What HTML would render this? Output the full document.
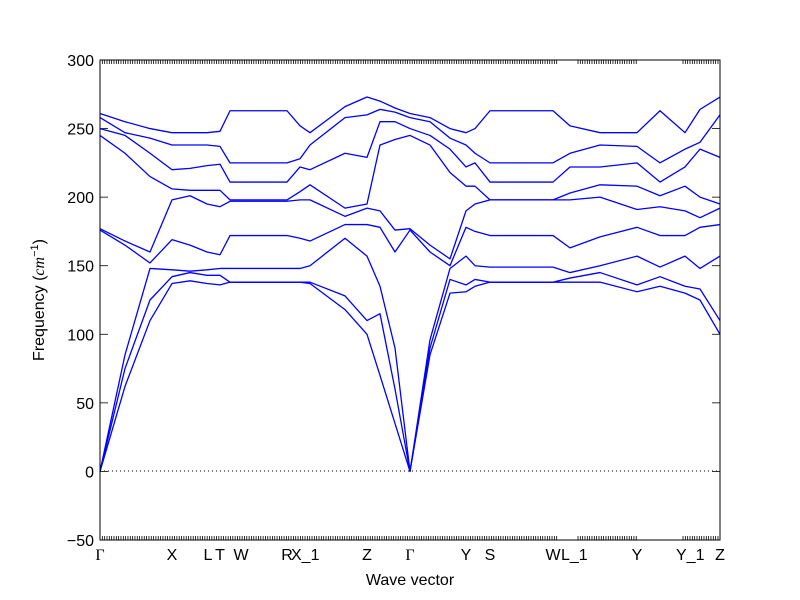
<!DOCTYPE html>
<html><head><meta charset="utf-8"><style>
body{margin:0;background:#fff}
svg{display:block;font-family:"Liberation Sans","DejaVu Sans",sans-serif}
</style></head><body>
<svg id="chart" width="800" height="600" viewBox="0 0 800 600" xmlns="http://www.w3.org/2000/svg">
<rect x="0" y="0" width="800" height="600" fill="#fff"/>
<g id="ticks"></g>
<g id="bands"></g>
<line x1="100" y1="471" x2="720" y2="471" stroke="#000" stroke-width="1" stroke-dasharray="1,3"/>
<rect x="100" y="60" width="620" height="480" fill="none" stroke="#000" stroke-width="1"/>
<g id="ylabels" font-size="16" text-anchor="end"></g>
<g id="xlabels" font-size="16" text-anchor="middle"></g>
<text x="410" y="585" font-size="16" text-anchor="middle">Wave vector</text>
<text transform="translate(44,300) rotate(-90)" font-size="16" text-anchor="middle">Frequency (<tspan font-style="italic" font-family="Liberation Serif">cm</tspan><tspan font-size="11" dy="-6">−1</tspan><tspan dy="6">)</tspan></text>
</svg>
<script>
// k-path distance (data coordinate along path, 0..620)
const kDist = [0,25,50,72,90,107,120,130,141,165,187,200,210,245,267,280,295,310,330,350,366,375,390,420,453,470,500,537,560,585,600,620];
const bandValues = [
[0,0,0,176,177,245,250,258,261],
[62,75,85,165,168,232,245,247,255],
[110,125,148,152,160,215,232,243,250],
[137,142,147,169,198,206,220,238,247],
[139,145,146,165,201,205,221,238,247],
[137,143,147,160,195,205,223,238,247],
[136,143,148,158,193,205,224,237,248],
[138,138,148,172,197,198,211,225,263],
[138,138,148,172,197,198,211,225,263],
[138,138,148,172,197,198,211,225,263],
[138,138,148,172,197,198,211,225,263],
[138,138,148,170,198,204,222,228,252],
[137,138,150,168,198,209,220,238,247],
[118,128,170,180,186,192,232,258,266],
[100,110,157,180,192,195,229,260,273],
[70,115,135,178,190,238,255,264,270],
[35,60,90,160,176,242,255,262,265],
[0,0,0,176,177,245,250,258,261],
[85,90,96,160,165,238,245,255,258],
[130,140,148,150,155,218,235,243,250],
[131,136,157,178,190,208,222,238,247],
[135,140,150,175,195,208,225,232,250],
[138,138,149,172,198,198,211,225,263],
[138,138,149,172,198,198,211,225,263],
[138,138,149,172,198,198,211,225,263],
[138,141,145,163,198,203,222,232,252],
[138,145,150,171,200,209,222,238,247],
[131,136,157,178,191,208,225,237,247],
[135,142,149,172,193,201,211,225,263],
[130,135,157,172,190,208,222,235,247],
[125,133,148,178,185,200,235,240,264],
[100,110,157,180,192,195,229,260,273]
];
const xTickLabels = ["Γ","X","L","T","W","R","X_1","Z","Γ","Y","S","W","L_1","Y","Y_1","Z"];
const xTickK = [0,72,107,120,141,187,200,267,310,366,390,453,470,537,585,620];
const yTicks = [-50,0,50,100,150,200,250,300];

const X0=100,X1=720,Y0=540,Y1=60;
function xs(k){return X0+(k-0)/(620-0)*(X1-X0);}
function ys(v){return Y0-(v-(-50))/(300-(-50))*(Y0-Y1);}
const NS="http://www.w3.org/2000/svg";
const bandsG=document.getElementById('bands');
const nb=bandValues[0].length;
for(let b=0;b<nb;b++){
  let d="";
  for(let i=0;i<kDist.length;i++){d+=(i?"L":"M")+xs(kDist[i]).toFixed(2)+","+ys(bandValues[i][b]).toFixed(2);}
  const p=document.createElementNS(NS,'path');
  p.setAttribute('d',d);p.setAttribute('fill','none');p.setAttribute('stroke','#0000ff');p.setAttribute('stroke-width','1.3');p.setAttribute('stroke-linejoin','round');
  
  
  bandsG.appendChild(p);
}
const tg=document.getElementById('ticks');
function ln(x1,y1,x2,y2){const l=document.createElementNS(NS,'line');l.setAttribute('x1',x1);l.setAttribute('y1',y1);l.setAttribute('x2',x2);l.setAttribute('y2',y2);l.setAttribute('stroke','#000');l.setAttribute('stroke-width','0.8');


tg.appendChild(l);}
const ylg=document.getElementById('ylabels');
yTicks.forEach(v=>{const y=ys(v);ln(100,y,108,y);ln(712,y,720,y);
  const t=document.createElementNS(NS,'text');t.setAttribute('x',94);t.setAttribute('y',y+6);t.textContent=v<0?"\u2212"+Math.abs(v):String(v);
  
  
  ylg.appendChild(t);});
const segs=[[100,557],[578,638],[683,720]];
segs.forEach(s=>{for(let x=s[0];x<=s[1];x+=2.33){ln(x,540,x,536);ln(x,60,x,64);}});
const xlg=document.getElementById('xlabels');
xTickLabels.forEach((lab,i)=>{const t=document.createElementNS(NS,'text');const x=xs(xTickK[i]);
  t.setAttribute('x',x);t.setAttribute('y',560);
  if(lab==="Γ"){t.setAttribute('font-family','Liberation Serif');}
  if(lab.indexOf('_')>0){t.setAttribute('text-anchor','start');t.setAttribute('x',x-9);}
  if(lab==="L"){t.setAttribute('x',x+1);}
  t.textContent=lab;
  
  
  xlg.appendChild(t);});
</script>
</body></html>
